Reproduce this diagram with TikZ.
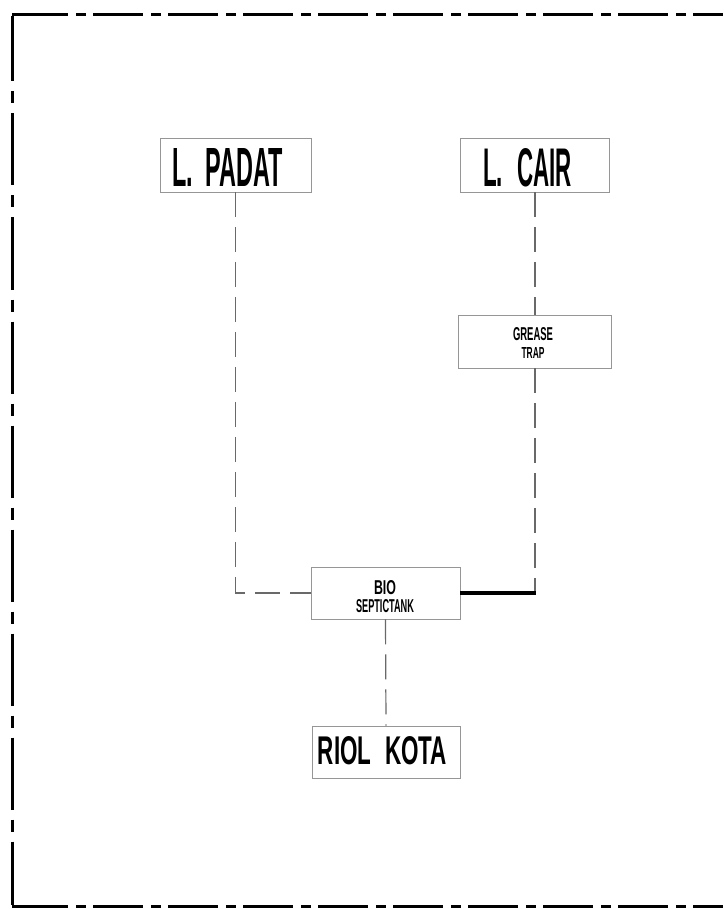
\documentclass[tikz,border=0pt]{standalone}
\usepackage{fontspec}
\usepackage{graphicx}
\setmainfont{Liberation Sans}
\newcommand{\fit}[3]{\resizebox{#1pt}{#2pt}{\bfseries #3}}
\definecolor{linegray}{RGB}{105,105,105}
\definecolor{boxgray}{RGB}{150,150,150}
\tikzset{
  frameline/.style={line width=3pt, black},
  boxnode/.style={draw=boxgray, line width=0.9pt, rectangle, inner sep=0pt, fill=white},
  txtnode/.style={inner sep=0pt, font=\fontsize{8}{18}\selectfont, align=center},
  conn/.style={draw=linegray, line width=1.2pt, dash pattern=on 25pt off 10pt},
  thickconn/.style={draw=black, line width=3.5pt}
}
\begin{document}
\begin{tikzpicture}[x=1pt,y=-1pt]
\useasboundingbox (0,0) rectangle (723,909);
% frame
\coordinate (tl) at (12,15);
\coordinate (bl) at (12,906);
\coordinate (tr) at (723,15);
\coordinate (br) at (723,906);
\coordinate (tls) at (18,15);
\coordinate (bls) at (18,906);
\draw[frameline] (tl) -- (tls);
\draw[frameline] (bl) -- (bls);
\draw[frameline, dash pattern=on 50pt off 8pt on 10pt off 7pt] (tls) -- (tr);
\draw[frameline, dash pattern=on 50pt off 8pt on 10pt off 7pt] (bls) -- (br);
\draw[frameline, dash pattern=on 72pt off 10pt on 12pt off 10pt, dash phase=7pt] ([yshift=-1.5pt]tl) -- ([yshift=1.5pt]bl);
% boxes
\node[boxnode, minimum width=151pt, minimum height=54pt] (padat) at (235.5,165) {};
\node[boxnode, minimum width=149pt, minimum height=54pt] (cair) at (535,165) {};
\node[boxnode, minimum width=153pt, minimum height=53pt] (grease) at (535,341.5) {};
\node[boxnode, minimum width=149pt, minimum height=52pt] (septic) at (385.5,593) {};
\node[boxnode, minimum width=148pt, minimum height=52pt] (riol) at (386,752) {};
% texts
\node[txtnode] (padattxt) at (227.5,167.5) {\fit{111}{38}{L.\hspace{0.55em}PADAT}};
\node[txtnode] (cairtxt) at (527.5,167.5) {\fit{89}{38}{L.\hspace{0.65em}CAIR}};
\node[txtnode] (greasetxt) at (533,342.5) {\fit{40}{13}{GREASE}\\\fit{23}{11}{TRAP}};
\node[txtnode] (septictxt) at (385,596.5) {\fit{22}{14}{BIO}\\\fit{58}{13}{SEPTICTANK}};
\node[txtnode] (rioltxt) at (382.5,751) {\fit{129}{28}{RIOL\hspace{0.6em}KOTA}};
% connectors
\coordinate (bend) at (grease.south |- septic.east);
\draw[conn] (padat.south) |- (septic.west);
\draw[conn] (cair.south) -- (grease.north);
\draw[conn] (grease.south) -- (bend);
\draw[thickconn] (septic.east) -- ([xshift=1.2pt]bend);
\draw[conn] (septic.south) -- (riol.north);
\end{tikzpicture}
\end{document}
